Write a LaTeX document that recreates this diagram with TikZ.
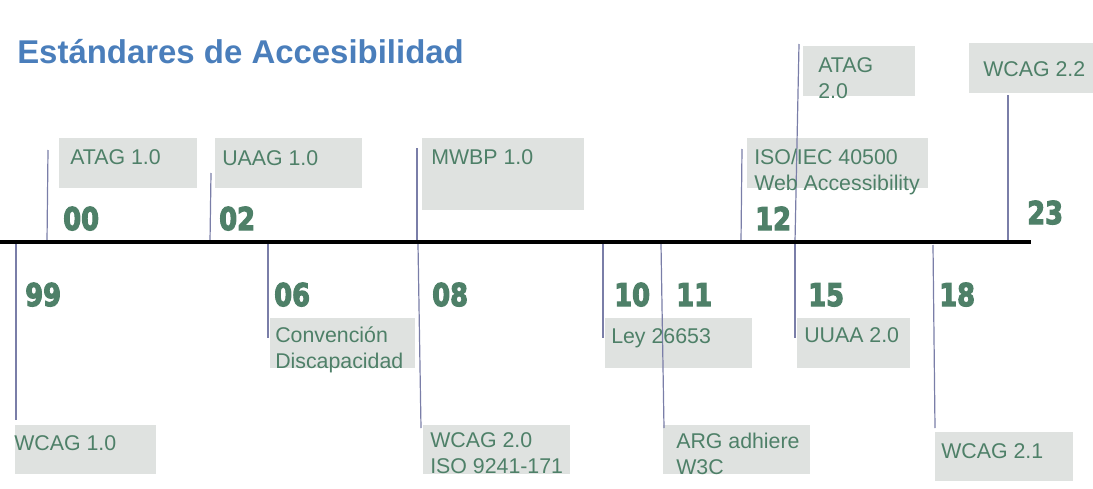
\documentclass[tikz,border=0pt]{standalone}
\usepackage{fontspec}
\setmainfont{Liberation Sans}
\newfontfamily\yearfam{DejaVu Sans}[BoldFeatures={FakeBold=4}]
\usepackage{graphicx}
\usetikzlibrary{fit}
\definecolor{titleblue}{RGB}{74,126,187}
\definecolor{labgreen}{RGB}{78,128,104}
\definecolor{boxgray}{RGB}{223,226,224}
\definecolor{tickblue}{RGB}{122,126,168}
\newcommand{\yr}[1]{\scalebox{0.82}[1]{#1}}
\tikzset{
  axisln/.style   = {black, line width=3pt},
  tickln/.style   = {tickblue, line width=0.9pt},
  evbox/.style    = {fill=boxgray, inner sep=0pt, fit={#1}},
  evtext/.style   = {anchor=base west, inner sep=0pt, labgreen, align=left,
                     font=\fontsize{16}{19.5}\selectfont},
  yeartext/.style = {anchor=base west, inner sep=0pt, labgreen,
                     font=\fontsize{23.5}{23.5}\selectfont\yearfam\bfseries}
}

\begin{document}
\begin{tikzpicture}[x=0.75pt,y=-0.75pt]
  \useasboundingbox (0,0) rectangle (1093,489);
  \node[anchor=base west,inner sep=0pt,titleblue,
        font=\fontsize{24.7}{24.7}\selectfont\bfseries] (title) at (17,63)
        {Estándares de Accesibilidad};
  % boxes
  \node[evbox={(15,425) (156,474)}]  (b99) {};
  \node[evbox={(59,138) (197,188)}]  (b00) {};
  \node[evbox={(215,138) (362,188)}] (b02) {};
  \node[evbox={(270,318) (415,368)}] (b06) {};
  \node[evbox={(422,138) (584,210)}] (b08a) {};
  \node[evbox={(423,425) (570,474)}] (b08b) {};
  \node[evbox={(605,318) (752,368)}] (b10) {};
  \node[evbox={(663,425) (810,474)}] (b11) {};
  \node[evbox={(747,138) (928,188)}] (b12) {};
  \node[evbox={(803,46) (915,96)}]   (b15a) {};
  \node[evbox={(797,318) (910,368)}] (b15b) {};
  \node[evbox={(935,432) (1073,481)}] (b18) {};
  \node[evbox={(969,43) (1093,93)}]  (b23) {};
  % axis
  \coordinate (ax0) at (0,242);
  \coordinate (ax1) at (1031,242);
  % ticks: axis point and free end
  \coordinate (a99) at (16,244);   \coordinate (e99) at (16,420);
  \coordinate (a00) at (47,242);   \coordinate (e00) at (48,150);
  \coordinate (a02) at (210,242);  \coordinate (e02) at (211,173);
  \coordinate (a06) at (268,244);  \coordinate (e06) at (268,338);
  \coordinate (a08a) at (417,242); \coordinate (e08a) at (417,148);
  \coordinate (a08b) at (418,244); \coordinate (e08b) at (421,428);
  \coordinate (a10) at (603,244);  \coordinate (e10) at (603,338);
  \coordinate (a11) at (661,244);  \coordinate (e11) at (664,428);
  \coordinate (a12) at (741,242);  \coordinate (e12) at (742,149);
  \coordinate (a15a) at (795,242); \coordinate (e15a) at (799,44);
  \coordinate (a15b) at (795,244); \coordinate (e15b) at (795,338);
  \coordinate (a18) at (933,245);  \coordinate (e18) at (935,428);
  \coordinate (a23) at (1008,242); \coordinate (e23) at (1008,95);
  \foreach \t in {99,00,02,06,08a,08b,10,11,12,15a,15b,18,23}
    \draw[tickln] (a\t) -- (e\t);
  \draw[axisln] (ax0) -- (ax1);
  % years
  \node[yeartext] (y99) at (25,306)   {\yr{99}};
  \node[yeartext] (y00) at (63,230)   {\yr{00}};
  \node[yeartext] (y02) at (219,230)  {\yr{02}};
  \node[yeartext] (y06) at (274,306)  {\yr{06}};
  \node[yeartext] (y08) at (432,306)  {\yr{08}};
  \node[yeartext] (y10) at (614,306)  {\yr{10}};
  \node[yeartext] (y11) at (676,306)  {\yr{11}};
  \node[yeartext] (y12) at (755,230)  {\yr{12}};
  \node[yeartext] (y15) at (808,306)  {\yr{15}};
  \node[yeartext] (y18) at (939,306)  {\yr{18}};
  \node[yeartext] (y23) at (1027,224) {\yr{23}};
  % texts (base = last line)
  \node[evtext] (t99)  at (14,450)  {WCAG 1.0};
  \node[evtext] (t00)  at (70,164)  {ATAG 1.0};
  \node[evtext] (t02)  at (222,165) {UAAG 1.0};
  \node[evtext] (t06)  at (275,368) {Convención\\Discapacidad};
  \node[evtext] (t08a) at (431,164) {MWBP 1.0};
  \node[evtext] (t08b) at (430,473) {WCAG 2.0\\ISO 9241-171};
  \node[evtext] (t10)  at (611,343) {Ley 26653};
  \node[evtext] (t11)  at (676,474) {ARG adhiere\\W3C};
  \node[evtext] (t12)  at (754,190) {ISO/IEC 40500\\Web Accessibility};
  \node[evtext] (t15a) at (818,98)  {ATAG\\2.0};
  \node[evtext] (t15b) at (804,342) {UUAA 2.0};
  \node[evtext] (t18)  at (941,458) {WCAG 2.1};
  \node[evtext] (t23)  at (983,76)  {WCAG 2.2};
\end{tikzpicture}
\end{document}
